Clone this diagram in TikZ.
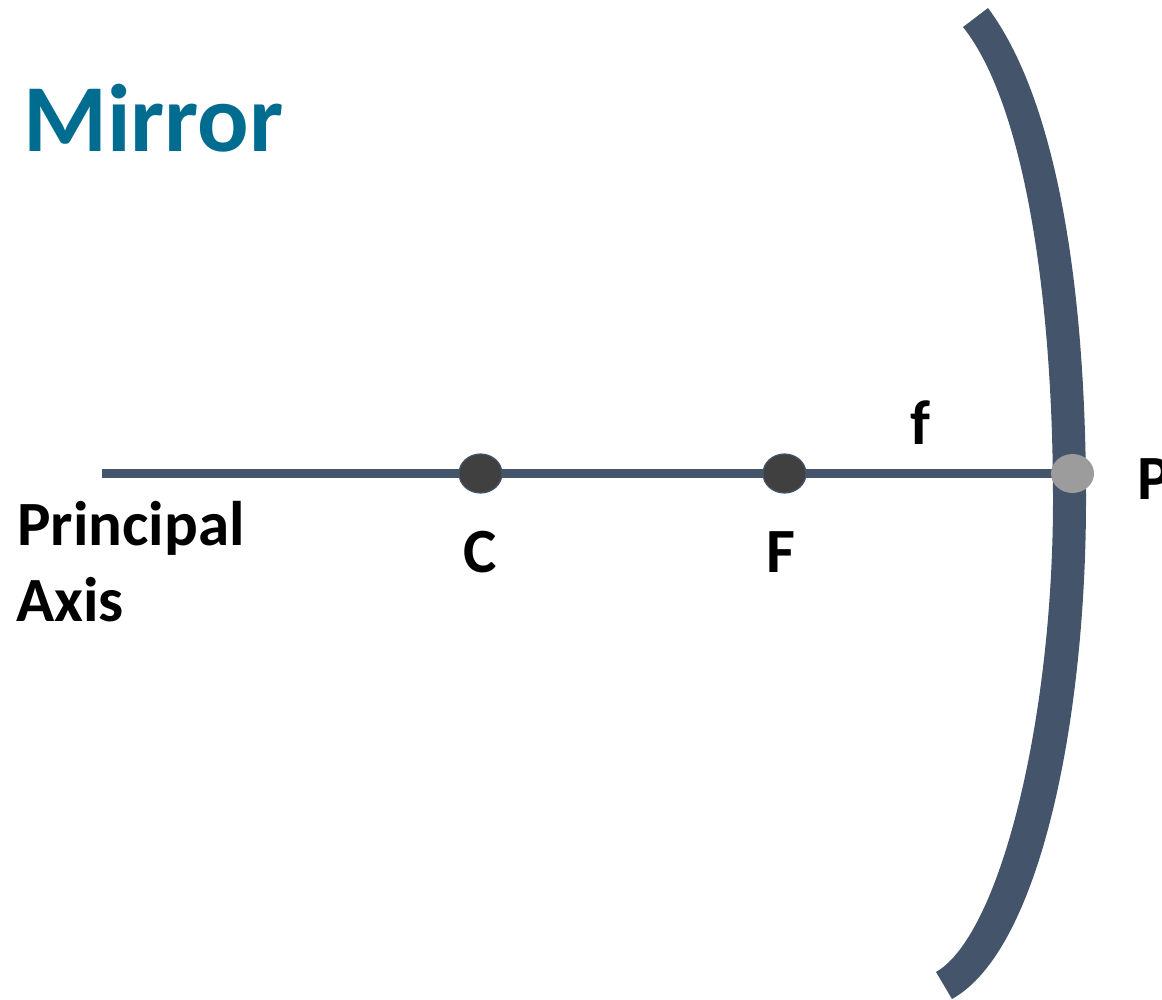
\documentclass[tikz,border=0pt]{standalone}
\usetikzlibrary{shapes.geometric}
\usepackage{fontspec}
\setmainfont{Carlito}
\definecolor{slate}{HTML}{44546A}
\definecolor{teal2}{HTML}{006C8F}
\begin{document}
\begin{tikzpicture}[x=1pt,y=-1pt,
  lab/.style={font=\bfseries\fontsize{63}{63}\selectfont,inner sep=0,text=black},
  pt/.style={ellipse,minimum width=43,minimum height=39,inner sep=0,draw=slate,line width=1.2,fill=#1}]
\path[use as bounding box] (0,0) rectangle (1162,999);
\clip (0,0) rectangle (1162,999);
\coordinate (axisstart) at (102,473.5);
\coordinate (pend) at (1072,473.5);
\fill[slate] (988,8) .. controls (1060,105) and (1086,300) .. (1086,500) .. controls (1086,720) and (1040,950) .. (952,999) -- (936,972) .. controls (1000,935) and (1053,720) .. (1053,500) .. controls (1053,300) and (1025,105) .. (963,27) -- cycle;
\draw[slate,line width=9] (axisstart) -- (pend);
\node[pt=black!75] (c) at (480.5,473.5) {};
\node[pt=black!75] (f) at (784.5,473.5) {};
\node[ellipse,fill=black!39,minimum width=43,minimum height=39,inner sep=0] (p) at (1072.5,473.5) {};
\node[anchor=base west,font=\bfseries\fontsize{96}{96}\selectfont,text=teal2,inner sep=0] (title) at (23,151) {Mirror};
\node[lab,anchor=base west] (pa1) at (17,545) {Principal};
\node[lab,anchor=base west] (pa2) at (16,621) {Axis};
\node[lab,anchor=base] (cl) at (480,572) {C};
\node[lab,anchor=base] (fl) at (781,572) {F};
\node[lab,anchor=base] (fs) at (920,444) {f};
\node[lab,anchor=base west] (pl) at (1137,499) {P};
\end{tikzpicture}
\end{document}
